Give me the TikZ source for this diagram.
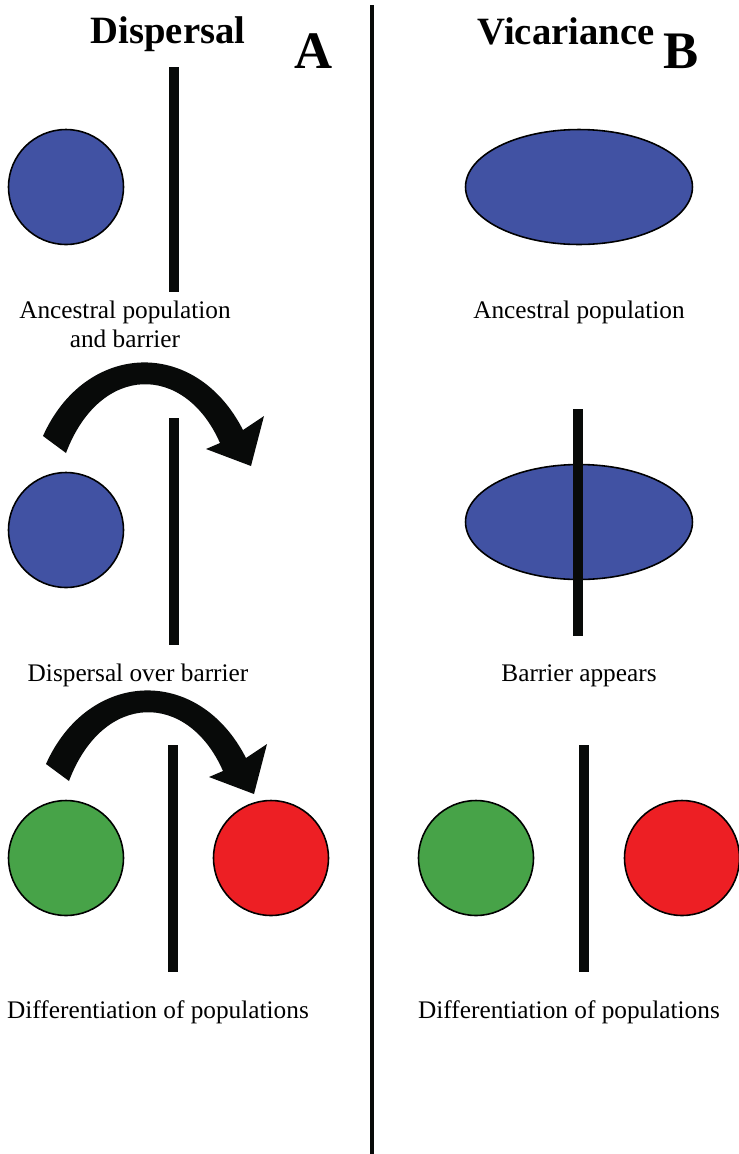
\documentclass[tikz,border=0pt]{standalone}
\usepackage{fontspec}
\setmainfont{Liberation Serif}
\usetikzlibrary{shapes.geometric}
\definecolor{PopBlue}  {RGB}{ 65,  82, 163}
\definecolor{PopGreen} {RGB}{ 71, 163,  72}
\definecolor{PopRed}   {RGB}{237,  31,  36}
\definecolor{InkBlack} {RGB}{  8,  10,   9}
\tikzset{
  % Panel titles
  paneltitle/.style={
    font=\fontsize{22}{26}\selectfont\bfseries, anchor=base
  },
  % Panel letters
  panelletter/.style={
    font=\fontsize{30}{34}\selectfont\bfseries, anchor=base
  },
  % Captions below each stage
  caption/.style={
    font=\fontsize{14.4}{17.5}\selectfont, anchor=base, align=center
  },
  % Round population
  popcircle/.style={
    circle, draw=black, line width=0.9pt,
    minimum size=2.3cm, inner sep=0pt
  },
  % Spread-out population
  popellipse/.style={
    ellipse, draw=black, line width=0.9pt,
    minimum width=4.54cm, minimum height=2.3cm, inner sep=0pt
  },
  % Barrier bar
  barrier/.style={
    line width=6pt, color=InkBlack
  },
  % Divider between panels
  divider/.style={
    line width=2.2pt, color=InkBlack
  },
  % Curved dispersal arrow
  hoparrow/.style={
    fill=InkBlack
  }
}

\begin{document}
\begin{tikzpicture}[x=0.02cm, y=-0.02cm]

  \useasboundingbox (0,0) rectangle (738,1154);

  % ── Divider ───────────────────────────────────────────────────────────────
  \coordinate (divtop) at (372,5);
  \coordinate (divbot) at (372,1154);
  \draw[divider] (divtop) -- (divbot);

  % ── Titles ────────────────────────────────────────────────────────────────
  \node[paneltitle]  (disptitle) at (168,43) {Dispersal};
  \node[panelletter] (letterA)   at (314,68) {A};
  \node[paneltitle]  (vicatitle) at (566,44) {Vicariance};
  \node[panelletter] (letterB)   at (681,68) {B};

  % ── Dispersal: stage 1 ────────────────────────────────────────────────────
  \node[popcircle, fill=PopBlue] (dpop1) at (66,187) {};
  \coordinate (dbar1top) at (174,67);
  \coordinate (dbar1bot) at (174,292);
  \draw[barrier] (dbar1top) -- (dbar1bot);
  \node[caption] (dcap1) at (125,318) {Ancestral population};
  \node[caption] (dcap1b) at (125,347) {and barrier};

  % ── Dispersal: stage 2 ────────────────────────────────────────────────────
  \fill[hoparrow] (43,436) .. controls (85,342) and (195,336) .. (243,430)
        -- (264,416) -- (251,466) -- (206,449) -- (220,443)
        .. controls (185,363) and (100,363) .. (66,453) -- cycle;
  \node[popcircle, fill=PopBlue] (dpop2) at (66,530) {};
  \coordinate (dbar2top) at (174,418);
  \coordinate (dbar2bot) at (174,645);
  \draw[barrier] (dbar2top) -- (dbar2bot);
  \node[caption] (dcap2) at (138,681) {Dispersal over barrier};

  % ── Dispersal: stage 3 ────────────────────────────────────────────────────
  \fill[hoparrow, shift={(3,328)}] (43,436) .. controls (85,342) and (195,336) .. (243,430)
        -- (264,416) -- (251,466) -- (206,449) -- (220,443)
        .. controls (185,363) and (100,363) .. (66,453) -- cycle;
  \node[popcircle, fill=PopGreen] (dpop3a) at (66,858) {};
  \node[popcircle, fill=PopRed]   (dpop3b) at (271,858) {};
  \coordinate (dbar3top) at (173,745);
  \coordinate (dbar3bot) at (173,972);
  \draw[barrier] (dbar3top) -- (dbar3bot);
  \node[caption] (dcap3) at (158,1018) {Differentiation of populations};

  % ── Vicariance: stage 1 ───────────────────────────────────────────────────
  \node[popellipse, fill=PopBlue] (vpop1) at (579,187) {};
  \node[caption] (vcap1) at (579,318) {Ancestral population};

  % ── Vicariance: stage 2 ───────────────────────────────────────────────────
  \node[popellipse, fill=PopBlue] (vpop2) at (579,522) {};
  \coordinate (vbar2top) at (578,409);
  \coordinate (vbar2bot) at (578,636);
  \draw[barrier] (vbar2top) -- (vbar2bot);
  \node[caption] (vcap2) at (579,681) {Barrier appears};

  % ── Vicariance: stage 3 ───────────────────────────────────────────────────
  \node[popcircle, fill=PopGreen] (vpop3a) at (476,858) {};
  \node[popcircle, fill=PopRed]   (vpop3b) at (682,858) {};
  \coordinate (vbar3top) at (584,745);
  \coordinate (vbar3bot) at (584,972);
  \draw[barrier] (vbar3top) -- (vbar3bot);
  \node[caption] (vcap3) at (569,1018) {Differentiation of populations};

\end{tikzpicture}
\end{document}
